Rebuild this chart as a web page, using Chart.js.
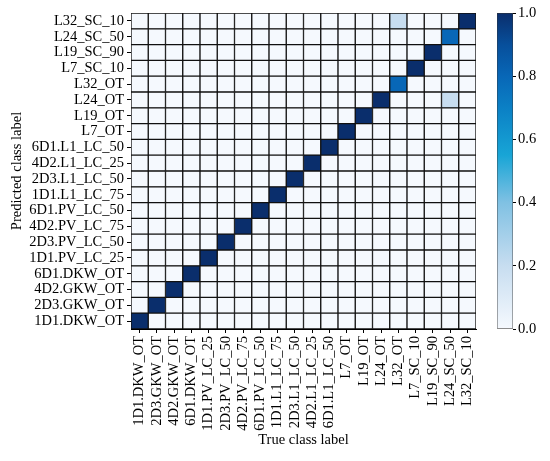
<!DOCTYPE html>
<html>
<head>
<meta charset="utf-8">
<script src="https://cdn.jsdelivr.net/npm/chart.js@4.4.0/dist/chart.umd.min.js"></script>
<style>
body { margin: 0; background: #fff; }
#wrap { position: relative; width: 550px; height: 461px; }
canvas { position: absolute; left: 0; top: 0; }
</style>
</head>
<body>
<div id="wrap">
  <canvas id="cm" width="550" height="461"></canvas>
  <canvas id="cbar" width="550" height="461"></canvas>
</div>
<script>
// class labels, index 0 = bottom row / left column
const classLabels = [
    '1D1.DKW_OT', '2D3.GKW_OT', '4D2.GKW_OT', '6D1.DKW_OT',
    '1D1.PV_LC_25', '2D3.PV_LC_50', '4D2.PV_LC_75', '6D1.PV_LC_50',
    '1D1.L1_LC_75', '2D3.L1_LC_50', '4D2.L1_LC_25', '6D1.L1_LC_50',
    'L7_OT', 'L19_OT', 'L24_OT', 'L32_OT',
    'L7_SC_10', 'L19_SC_90', 'L24_SC_50', 'L32_SC_10'
];

// confusion[predicted][true]
const confusion = [
    [1,0,0,0,0,0,0,0,0,0,0,0,0,0,0,0,0,0,0,0],
    [0,1,0,0,0,0,0,0,0,0,0,0,0,0,0,0,0,0,0,0],
    [0,0,1,0,0,0,0,0,0,0,0,0,0,0,0,0,0,0,0,0],
    [0,0,0,1,0,0,0,0,0,0,0,0,0,0,0,0,0,0,0,0],
    [0,0,0,0,1,0,0,0,0,0,0,0,0,0,0,0,0,0,0,0],
    [0,0,0,0,0,1,0,0,0,0,0,0,0,0,0,0,0,0,0,0],
    [0,0,0,0,0,0,1,0,0,0,0,0,0,0,0,0,0,0,0,0],
    [0,0,0,0,0,0,0,1,0,0,0,0,0,0,0,0,0,0,0,0],
    [0,0,0,0,0,0,0,0,1,0,0,0,0,0,0,0,0,0,0,0],
    [0,0,0,0,0,0,0,0,0,1,0,0,0,0,0,0,0,0,0,0],
    [0,0,0,0,0,0,0,0,0,0,1,0,0,0,0,0,0,0,0,0],
    [0,0,0,0,0,0,0,0,0,0,0,1,0,0,0,0,0,0,0,0],
    [0,0,0,0,0,0,0,0,0,0,0,0,1,0,0,0,0,0,0,0],
    [0,0,0,0,0,0,0,0,0,0,0,0,0,1,0,0,0,0,0,0],
    [0,0,0,0,0,0,0,0,0,0,0,0,0,0,1,0,0,0,0.2,0],
    [0,0,0,0,0,0,0,0,0,0,0,0,0,0,0,0.8,0,0,0,0],
    [0,0,0,0,0,0,0,0,0,0,0,0,0,0,0,0,1,0,0,0],
    [0,0,0,0,0,0,0,0,0,0,0,0,0,0,0,0,0,1,0,0],
    [0,0,0,0,0,0,0,0,0,0,0,0,0,0,0,0,0,0,0.8,0],
    [0,0,0,0,0,0,0,0,0,0,0,0,0,0,0,0.2,0,0,0,1]
];

const colorbarTicks = [0, 0.2, 0.4, 0.6, 0.8, 1.0];

const cmapStops = [
    [0, '#f5f9fe'], [0.2, '#c7ddf0'], [0.4, '#80c1e3'], [0.55, '#18a5d6'],
    [0.7, '#0b80c5'], [0.8, '#0867b7'], [0.9, '#074f9b'], [1, '#0a2e6c']
];

const serif = { family: 'Liberation Serif', size: 14.5 };

function hexRgb(h) {
    return [1, 3, 5].map(i => parseInt(h.substr(i, 2), 16));
}

function cmap(v) {
    for (let i = 1; i < cmapStops.length; i++) {
        const [t1, c1] = cmapStops[i];
        const [t0, c0] = cmapStops[i - 1];
        if (v <= t1) {
            const f = (v - t0) / (t1 - t0);
            const a = hexRgb(c0), b = hexRgb(c1);
            const rgb = a.map((x, k) => Math.round(x + (b[k] - x) * f));
            return 'rgb(' + rgb.join(',') + ')';
        }
    }
    return cmapStops[cmapStops.length - 1][1];
}

const tickGrid = { drawOnChartArea: false, offset: false, tickLength: 4, color: '#000' };

new Chart(document.getElementById('cm'), {
    type: 'bar',
    data: {
        labels: classLabels,
        datasets: confusion.map((row, r) => ({
            data: row.map(() => [r, r + 1]),
            backgroundColor: row.map(v => cmap(v)),
            borderColor: '#111',
            borderWidth: 1,
            borderSkipped: false,
            barPercentage: 1,
            categoryPercentage: 1,
            grouped: false
        }))
    },
    options: {
        responsive: false,
        animation: false,
        layout: { padding: { top: 13, right: 74, left: 0, bottom: 0 } },
        plugins: { legend: { display: false }, tooltip: { enabled: false } },
        scales: {
            x: {
                type: 'category',
                offset: true,
                grid: tickGrid,
                border: { display: true, color: '#000' },
                ticks: { minRotation: 90, maxRotation: 90, autoSkip: false, color: '#000', font: serif, padding: 3 },
                title: { display: true, text: 'True class label', color: '#000', font: serif, padding: { top: 0, bottom: 12 } },
                afterFit: s => { s.height = 132; }
            },
            y: {
                type: 'linear',
                min: 0,
                max: classLabels.length,
                grid: tickGrid,
                border: { display: true, color: '#000' },
                afterBuildTicks: s => { s.ticks = classLabels.map((_, i) => ({ value: i + 0.5 })); },
                ticks: { autoSkip: false, color: '#000', font: serif, padding: 3, callback: v => classLabels[Math.floor(v)] },
                title: { display: true, text: 'Predicted class label', color: '#000', font: serif, padding: { top: 8, bottom: 0 } },
                afterFit: s => { s.width = 131; }
            }
        }
    }
});

new Chart(document.getElementById('cbar'), {
    type: 'bar',
    data: {
        labels: ['scale'],
        datasets: [{
            data: [[0, 1]],
            backgroundColor: ctx => {
                const a = ctx.chart.chartArea;
                if (!a) return null;
                const g = ctx.chart.ctx.createLinearGradient(0, a.bottom, 0, a.top);
                cmapStops.forEach(([t, c]) => g.addColorStop(t, c));
                return g;
            },
            borderColor: '#333',
            borderWidth: 0.75,
            borderSkipped: false,
            barPercentage: 1,
            categoryPercentage: 1
        }]
    },
    options: {
        responsive: false,
        animation: false,
        layout: { padding: { top: 13, right: 0, left: 497, bottom: 132 } },
        plugins: { legend: { display: false }, tooltip: { enabled: false } },
        scales: {
            x: { display: false },
            y: {
                position: 'right',
                min: 0,
                max: 1,
                grid: { drawOnChartArea: false, tickLength: 3, color: '#000' },
                border: { display: false },
                afterBuildTicks: s => { s.ticks = colorbarTicks.map(v => ({ value: v })); },
                ticks: { autoSkip: false, color: '#000', font: serif, padding: 2, callback: v => Number(v).toFixed(1) },
                afterFit: s => { s.width = 37; }
            }
        }
    }
});
</script>
</body>
</html>
